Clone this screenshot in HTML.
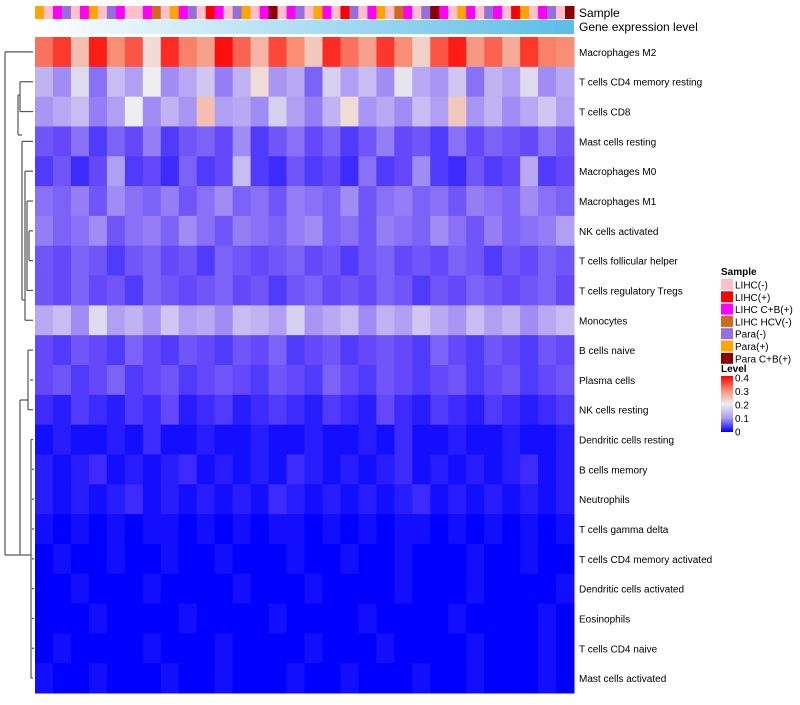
<!DOCTYPE html>
<html><head><meta charset="utf-8"><style>
body{margin:0;background:#fff;font-family:"Liberation Sans",sans-serif;}
svg text{font-family:"Liberation Sans",sans-serif;}
</style></head><body>
<svg id="chart" width="800" height="700" xmlns="http://www.w3.org/2000/svg">
<defs><linearGradient id="gexp" x1="0" x2="1"><stop offset="0" stop-color="#ffffff"/><stop offset="1" stop-color="#5bbde8"/></linearGradient>
<linearGradient id="lvl" x1="0" y1="1" x2="0" y2="0"><stop offset="0" stop-color="#0000ff"/><stop offset="0.25" stop-color="#a99cf0"/><stop offset="0.5" stop-color="#eeeeee"/><stop offset="0.75" stop-color="#f98e74"/><stop offset="1" stop-color="#ff0000"/></linearGradient></defs>
<g id="sample-bar"></g>
<rect x="35" y="20" width="539" height="14" fill="url(#gexp)"/>
<text x="579" y="17" font-size="12">Sample</text>
<text x="579" y="31" font-size="12">Gene expression level</text>
<g id="cells"></g>
<g id="rowlabels"></g>
<g id="dendro" stroke="#555" fill="none" stroke-width="1.2"></g>
<g font-size="10">
<text x="721" y="275" font-weight="bold">Sample</text>
<g id="slegend"></g>
<text x="721" y="372" font-weight="bold">Level</text>
<rect x="721" y="376" width="12" height="56" fill="url(#lvl)"/>
<g id="llegend"></g>
</g>
</svg>
<script>
const rowNames=["Macrophages M2","T cells CD4 memory resting","T cells CD8","Mast cells resting","Macrophages M0","Macrophages M1","NK cells activated","T cells follicular helper","T cells regulatory  Tregs","Monocytes","B cells naive","Plasma cells","NK cells resting","Dendritic cells resting","B cells memory","Neutrophils","T cells gamma delta","T cells CD4 memory activated","Dendritic cells activated","Eosinophils","T cells CD4 naive","Mast cells activated"];
const r0=[0.32,0.36,0.25,0.38,0.3,0.34,0.22,0.37,0.31,0.28,0.39,0.33,0.26,0.35,0.3,0.24,0.37,0.32,0.28,0.36,0.3,0.23,0.34,0.38,0.29,0.33,0.27,0.36,0.31,0.3];
const r1=[0.14,0.1,0.18,0.08,0.15,0.12,0.2,0.1,0.13,0.16,0.09,0.14,0.22,0.11,0.13,0.07,0.17,0.12,0.15,0.1,0.19,0.13,0.11,0.16,0.08,0.14,0.12,0.18,0.1,0.13];
const r2=[0.11,0.13,0.15,0.09,0.12,0.2,0.1,0.14,0.11,0.25,0.12,0.13,0.1,0.17,0.12,0.09,0.14,0.22,0.11,0.13,0.1,0.15,0.12,0.24,0.11,0.14,0.1,0.13,0.16,0.12];
const r3=[0.06,0.05,0.08,0.04,0.07,0.05,0.09,0.04,0.06,0.07,0.05,0.1,0.04,0.06,0.08,0.05,0.07,0.04,0.06,0.09,0.05,0.06,0.04,0.08,0.05,0.07,0.06,0.05,0.08,0.06];
const r4=[0.04,0.06,0.03,0.05,0.12,0.04,0.05,0.03,0.07,0.04,0.05,0.15,0.04,0.03,0.06,0.04,0.05,0.03,0.08,0.04,0.05,0.1,0.04,0.03,0.06,0.04,0.05,0.13,0.04,0.05];
const r5=[0.08,0.07,0.09,0.06,0.1,0.08,0.07,0.09,0.06,0.08,0.1,0.07,0.08,0.06,0.09,0.08,0.07,0.1,0.06,0.08,0.09,0.07,0.08,0.06,0.09,0.08,0.07,0.1,0.08,0.07];
const r6=[0.09,0.07,0.08,0.1,0.06,0.08,0.09,0.07,0.1,0.08,0.06,0.09,0.08,0.07,0.09,0.1,0.07,0.08,0.06,0.09,0.08,0.07,0.1,0.08,0.06,0.09,0.07,0.08,0.09,0.12];
const r7=[0.06,0.05,0.07,0.06,0.04,0.06,0.07,0.05,0.06,0.04,0.07,0.06,0.05,0.06,0.07,0.05,0.06,0.04,0.06,0.07,0.05,0.06,0.05,0.07,0.06,0.04,0.06,0.05,0.07,0.06];
const r8=[0.06,0.05,0.07,0.05,0.06,0.04,0.07,0.06,0.05,0.06,0.07,0.05,0.06,0.04,0.06,0.07,0.05,0.06,0.05,0.07,0.06,0.04,0.06,0.05,0.07,0.06,0.05,0.06,0.07,0.05];
const r9=[0.13,0.15,0.1,0.18,0.12,0.14,0.11,0.16,0.12,0.13,0.1,0.15,0.14,0.12,0.17,0.11,0.13,0.15,0.1,0.14,0.12,0.16,0.13,0.11,0.15,0.12,0.14,0.1,0.13,0.15];
const r10=[0.05,0.04,0.06,0.05,0.04,0.07,0.05,0.04,0.06,0.05,0.04,0.06,0.05,0.07,0.04,0.05,0.06,0.04,0.05,0.06,0.05,0.04,0.07,0.05,0.04,0.06,0.05,0.04,0.06,0.05];
const r11=[0.05,0.06,0.04,0.05,0.07,0.04,0.05,0.06,0.04,0.05,0.06,0.05,0.04,0.06,0.05,0.04,0.07,0.05,0.04,0.06,0.05,0.04,0.05,0.06,0.04,0.05,0.06,0.04,0.05,0.06];
const r12=[0.03,0.02,0.04,0.03,0.02,0.04,0.03,0.05,0.02,0.03,0.04,0.02,0.03,0.04,0.03,0.02,0.04,0.03,0.02,0.05,0.03,0.02,0.04,0.03,0.02,0.04,0.03,0.02,0.03,0.04];
const r13=[0.01,0.02,0.01,0.01,0.02,0.01,0.03,0.01,0.01,0.02,0.01,0.01,0.02,0.01,0.01,0.02,0.01,0.01,0.02,0.01,0.03,0.01,0.01,0.02,0.01,0.01,0.02,0.01,0.01,0.02];
const r14=[0.02,0.01,0.02,0.03,0.01,0.02,0.01,0.02,0.03,0.01,0.02,0.01,0.02,0.01,0.03,0.02,0.01,0.02,0.01,0.02,0.03,0.01,0.02,0.01,0.02,0.01,0.02,0.03,0.01,0.02];
const r15=[0.02,0.01,0.02,0.01,0.02,0.03,0.01,0.02,0.01,0.02,0.01,0.02,0.01,0.03,0.02,0.01,0.02,0.01,0.02,0.01,0.02,0.03,0.01,0.02,0.01,0.02,0.01,0.02,0.01,0.02];
const r16=[0.01,0.0,0.01,0.0,0.01,0.0,0.01,0.01,0.0,0.01,0.0,0.01,0.0,0.01,0.01,0.0,0.01,0.0,0.01,0.0,0.01,0.01,0.0,0.01,0.0,0.01,0.0,0.01,0.0,0.01];
const r17=[0.0,0.01,0.0,0.0,0.01,0.0,0.0,0.01,0.0,0.0,0.01,0.0,0.0,0.0,0.01,0.0,0.0,0.01,0.0,0.0,0.01,0.0,0.0,0.0,0.01,0.0,0.0,0.01,0.0,0.0];
const r18=[0.0,0.0,0.01,0.0,0.0,0.0,0.01,0.0,0.0,0.0,0.0,0.01,0.0,0.0,0.0,0.01,0.0,0.0,0.0,0.0,0.01,0.0,0.0,0.0,0.01,0.0,0.0,0.0,0.0,0.01];
const r19=[0.0,0.0,0.0,0.01,0.0,0.0,0.0,0.0,0.01,0.0,0.0,0.0,0.0,0.01,0.0,0.0,0.0,0.0,0.01,0.0,0.0,0.0,0.0,0.01,0.0,0.0,0.0,0.0,0.01,0.0];
const r20=[0.0,0.01,0.0,0.0,0.0,0.0,0.01,0.0,0.0,0.0,0.01,0.0,0.0,0.0,0.0,0.01,0.0,0.0,0.0,0.01,0.0,0.0,0.0,0.0,0.01,0.0,0.0,0.0,0.01,0.0];
const r21=[0.01,0.0,0.0,0.01,0.0,0.0,0.0,0.01,0.0,0.0,0.01,0.0,0.0,0.0,0.01,0.0,0.0,0.01,0.0,0.0,0.0,0.01,0.0,0.0,0.01,0.0,0.0,0.0,0.01,0.0];
const values=[r0,r1,r2,r3,r4,r5,r6,r7,r8,r9,r10,r11,r12,r13,r14,r15,r16,r17,r18,r19,r20,r21];
const sampleCats=["LIHC(-)","LIHC(+)","LIHC C+B(+)","LIHC HCV(-)","Para(-)","Para(+)","Para C+B(+)"];
const sampleColors=["#ffc0cb","#ff0000","#ff00ff","#d2691e","#9370db","#ffa500","#8b0000"];
const sampleSeq=[5,0,2,4,0,2,5,0,4,2,0,0,2,3,0,5,2,4,0,1,2,0,4,5,0,2,6,0,2,4,0,5,2,0,1,4,0,2,5,0,3,2,0,4,6,2,0,5,2,0,4,2,0,1,5,0,2,4,0,6];
const levelTicks=[0,0.1,0.2,0.3,0.4];
const X0=35,X1=574,Y0=37,Y1=693;
const nrow=rowNames.length, ncol=r0.length;
const rowH=(Y1-Y0)/nrow, colW=(X1-X0)/ncol;
function yRow(i){return Y0+i*rowH;}
function xCol(j){return X0+j*colW;}
const stops=[[0,[0,0,255]],[0.05,[100,72,250]],[0.1,[160,140,245]],[0.2,[238,238,238]],[0.3,[249,142,116]],[0.4,[255,0,0]]];
function color(v){v=Math.max(0,Math.min(0.4,v));for(let k=0;k<stops.length-1;k++){const a=stops[k],b=stops[k+1];if(v<=b[0]){const t=(v-a[0])/(b[0]-a[0]);const c=a[1].map((x,i)=>Math.round(x+(b[1][i]-x)*t));return `rgb(${c})`;}}return "rgb(255,0,0)";}
const NS="http://www.w3.org/2000/svg";
function mk(tag,attrs,parent){const e=document.createElementNS(NS,tag);for(const k in attrs)e.setAttribute(k,attrs[k]);parent.appendChild(e);return e;}
const cells=document.getElementById('cells');
values.forEach((row,i)=>row.forEach((v,j)=>{
 const r=mk('rect',{x:xCol(j),y:yRow(i),width:colW+0.5,height:rowH+0.5,fill:color(v)},cells);
 
 
}));
const rl=document.getElementById('rowlabels');
rowNames.forEach((n,i)=>{
 const t=mk('text',{x:579,y:yRow(i)+rowH/2+4,'font-size':10},rl);t.textContent=n;
 
 
});
const sb=document.getElementById('sample-bar');const sw=(X1-X0)/sampleSeq.length;
sampleSeq.forEach((c,j)=>{
 const r=mk('rect',{x:X0+j*sw,y:6,width:sw+0.5,height:13,fill:sampleColors[c]},sb);
 
 
});
const sl=document.getElementById('slegend');
sampleCats.forEach((c,i)=>{
 const y=279+i*12.3;
 const r=mk('rect',{x:721,y:y,width:12,height:11,fill:sampleColors[i]},sl);
 
 
 const t=mk('text',{x:735,y:y+9.5,'font-size':10},sl);t.textContent=c;
 
 
});
const ll=document.getElementById('llegend');
levelTicks.forEach(v=>{
 const y=432-(v/0.4)*54;
 const t=mk('text',{x:735,y:y+3.5,'font-size':10},ll);t.textContent=String(v);
 
 
});
const d=document.getElementById('dendro');
function ym(i){return yRow(i)+rowH/2;}
const segs=[[5,ym(0),33,ym(0)],[5,ym(0),5,555],[5,555,20,555],
[20,ym(1),33,ym(1)],[20,ym(2),33,ym(2)],[20,ym(1),20,ym(2)],[18,95,20,95],[18,95,18,135],[18,135,22,135],
[22,ym(3),33,ym(3)],[22,ym(3),22,300],[22,300,25,300],[25,ym(4),33,ym(4)],[25,ym(4),25,ym(9)],[25,ym(9),33,ym(9)],
[27,ym(5),33,ym(5)],[27,ym(5),27,ym(8)],[27,ym(8),33,ym(8)],[29,ym(6),33,ym(6)],[29,ym(7),33,ym(7)],[29,ym(6),29,ym(7)],
[20,555,20,400],[20,400,28,400],[28,ym(10),33,ym(10)],[28,ym(10),28,ym(12)],[28,ym(12),33,ym(12)],[30,ym(11),33,ym(11)],
[20,555,31,555],[31,ym(13),33,ym(13)],[31,ym(13),31,ym(21)],[31,ym(21),33,ym(21)]];
for(let k=14;k<21;k++)segs.push([32,ym(k),34,ym(k)]);
segs.forEach(s=>{const l=mk('line',{x1:s[0],y1:s[1],x2:s[2],y2:s[3]},d);
 
 });
</script>
</body></html>
